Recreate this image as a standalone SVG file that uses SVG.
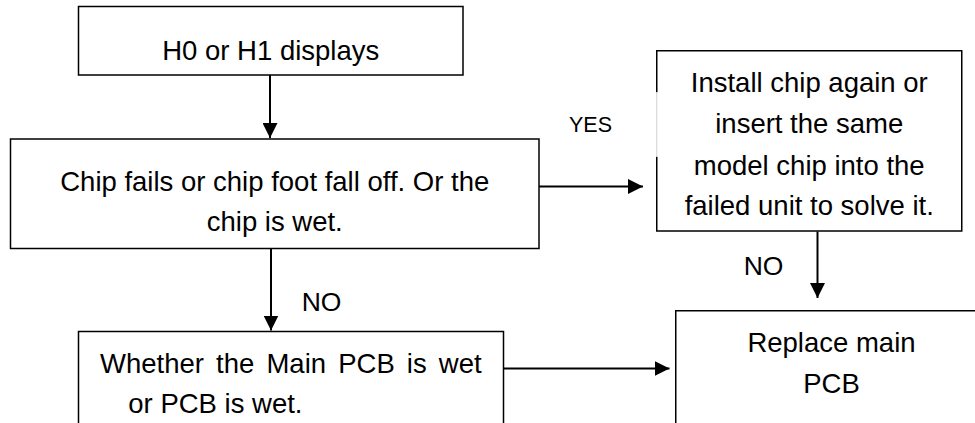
<svg xmlns="http://www.w3.org/2000/svg" width="975" height="423" viewBox="0 0 975 423">
<style>
  .box { fill: #ffffff; stroke: #000000; stroke-width: 1.5; }
  .t { font-family: "Liberation Sans", Arial, sans-serif; font-size: 27.5px; fill: #000000; }
  .mid { text-anchor: middle; }
  .lbl { font-family: "Liberation Sans", Arial, sans-serif; fill: #000000; }
  .conn { stroke: #000000; stroke-width: 2; fill: none; marker-end: url(#ah); }
</style>
<defs>
  <marker id="ah" markerUnits="userSpaceOnUse" markerWidth="15" markerHeight="15" refX="15" refY="7.5" orient="auto">
    <path d="M0,0 L15,7.5 L0,15 Z" fill="#000000"/>
  </marker>
</defs>
<rect width="975" height="423" fill="#ffffff"/>

<g id="connectors">
  <line class="conn" x1="270" y1="75" x2="270" y2="138"/>
  <line class="conn" x1="539" y1="186.5" x2="643" y2="186.5"/>
  <line class="conn" x1="271" y1="248.5" x2="271" y2="330.5"/>
  <line class="conn" x1="817.5" y1="231.5" x2="817.5" y2="298"/>
  <line class="conn" x1="503.5" y1="368.5" x2="669.5" y2="368.5"/>
  <text class="lbl" x="590.5" y="131.5" font-size="21.5" text-anchor="middle">YES</text>
  <text class="lbl" x="321.5" y="310.5" font-size="26.5" text-anchor="middle">NO</text>
  <text class="lbl" x="763.5" y="274.5" font-size="26.5" text-anchor="middle">NO</text>
</g>

<g id="node-h0h1">
  <rect class="box" x="78.5" y="6.5" width="384.5" height="68.5"/>
  <text class="t mid" x="270.75" y="59.5">H0 or H1 displays</text>
</g>

<g id="node-chip">
  <rect class="box" x="10.5" y="139" width="528.5" height="109.5"/>
  <text class="t mid" x="274.75" y="190.5">Chip fails or chip foot fall off. Or the</text>
  <text class="t mid" x="274.75" y="230.5">chip is wet.</text>
</g>

<g id="node-install">
  <path d="M656.75,92.3 V50.75 H961.75 V231 H656.75 V156.7" fill="#ffffff" stroke="#000000" stroke-width="1.5"/>
  <line x1="656.75" y1="92.3" x2="656.75" y2="156.7" stroke="#d0d0d0" stroke-width="1"/>
  <text class="t mid" x="809.25" y="92">Install chip again or</text>
  <text class="t mid" x="809.25" y="133.3">insert the same</text>
  <text class="t mid" x="809.25" y="174.6">model chip into the</text>
  <text class="t mid" x="809.25" y="214.5">failed unit to solve it.</text>
</g>

<g id="node-replace">
  <rect class="box" x="675.75" y="310.75" width="320" height="140"/>
  <text class="t mid" x="831.5" y="351.7">Replace main</text>
  <text class="t mid" x="831.5" y="393.3">PCB</text>
</g>

<g id="node-whether">
  <rect class="box" x="78.5" y="331.5" width="425" height="120"/>
  <text class="t" x="100" y="373.3" word-spacing="4.5">Whether the Main PCB is wet</text>
  <text class="t" x="128.3" y="413.3">or PCB is wet.</text>
</g>
</svg>
